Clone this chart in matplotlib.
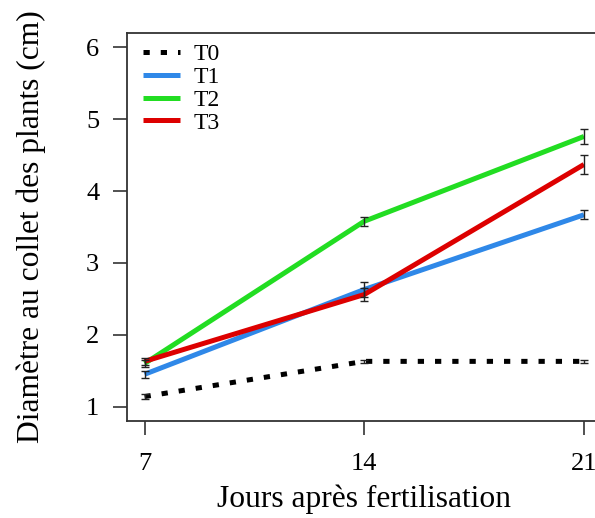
import numpy as np
import matplotlib
matplotlib.use("Agg")
import matplotlib.pyplot as plt

# Data
days = [7, 14, 21]
t0 = [1.14, 1.63, 1.63]
t1 = [1.45, 2.63, 3.67]
t2 = [1.60, 3.58, 4.76]
t3 = [1.63, 2.56, 4.37]
t0_err = [0.04, 0.02, 0.02]
t1_err = [0.05, 0.10, 0.06]
t2_err = [0.05, 0.06, 0.10]
t3_err = [0.05, 0.09, 0.13]
labels = ["T0", "T1", "T2", "T3"]
colors = ["black", "#2F88E8", "#22DD22", "#DD0000"]
yticks = [1, 2, 3, 4, 5, 6]

plt.rcParams['font.family'] = ['Liberation Serif', 'DejaVu Serif']

fig = plt.figure(figsize=(5.95, 5.18), dpi=100)
ax = fig.add_axes([127 / 595, 1 - 421 / 518, 474.5 / 595, 388 / 518])

series = [t0, t1, t2, t3]
errs = [t0_err, t1_err, t2_err, t3_err]
for i, (vals, err) in enumerate(zip(series, errs)):
    if i == 0:
        ax.plot(days, vals, color=colors[i], lw=3.6, linestyle=(0, (1.25, 2.2)),
                label=labels[i], zorder=2)
    else:
        ax.plot(days, vals, color=colors[i], lw=3.6, label=labels[i],
                solid_capstyle='butt', zorder=2)
    ax.errorbar(days, vals, yerr=err, fmt='none', ecolor='#222222',
                elinewidth=1.0, capsize=3, capthick=1.0, zorder=3)

ax.set_xlim(6.44, 21.56)
ax.set_ylim(0.8, 6.2)
ax.set_xticks(days)
ax.set_yticks(yticks)
ax.tick_params(axis='both', direction='out', length=10, width=1.2,
               labelsize=19, color='#333333')
ax.tick_params(axis='y', pad=10)
ax.tick_params(axis='x', pad=13)
ax.spines['right'].set_visible(False)
for sp in ax.spines.values():
    sp.set_linewidth(1.3)
    sp.set_color('#333333')

ax.set_xlabel("Jours après fertilisation", fontsize=22.7, labelpad=7)
ax.set_ylabel("Diamètre au collet des plants (cm)", fontsize=22.7, labelpad=29)

ax.legend(loc='upper left', bbox_to_anchor=(0.034, 0.972), frameon=False,
          fontsize=17, handlelength=1.57, handletextpad=0.55,
          labelspacing=0.05, borderaxespad=0.0, borderpad=0.0)

fig.savefig("out.png", dpi=100)
